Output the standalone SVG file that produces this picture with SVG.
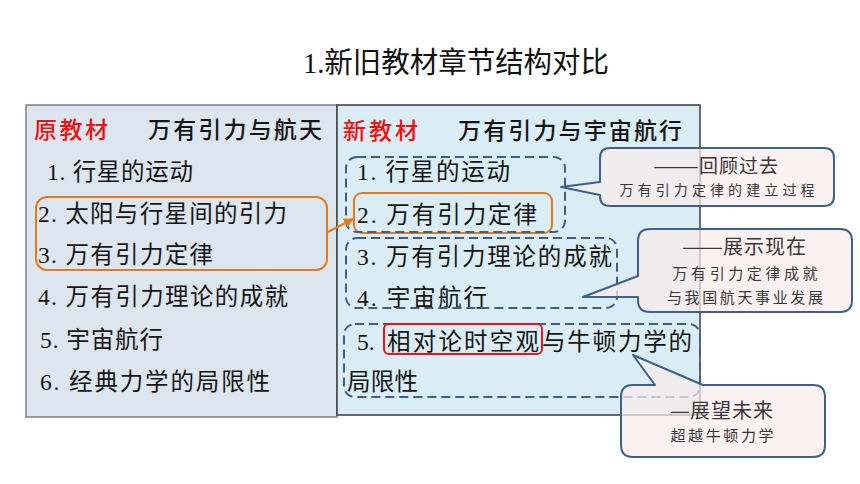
<svg xmlns="http://www.w3.org/2000/svg" width="860" height="484" viewBox="0 0 860 484">
<defs>
<style>
.t{font-family:"Liberation Serif","Noto Sans CJK SC",serif;font-size:23.5px;fill:#151515}
.h{font-family:"Noto Sans CJK SC",sans-serif;font-size:23px;fill:#151515;font-weight:500}
.r{fill:#ee1111}
.dash{fill:none;stroke:#3d5f86;stroke-width:2;stroke-dasharray:9 5}
.call{fill:#f9ecec;fill-opacity:0.72;stroke:#3d6189;stroke-width:2;stroke-linejoin:round}
.ct{font-family:"Noto Sans CJK SC",serif;fill:#383838;text-anchor:middle}
.cs{font-family:"Noto Sans CJK SC",serif;fill:#383838}
</style>
<marker id="arr" viewBox="0 0 10 10" refX="9" refY="5" markerWidth="5" markerHeight="5" orient="auto">
<path d="M0,0 L10,5 L0,10 z" fill="#e47a1e"/>
</marker>
</defs>
<rect width="860" height="484" fill="#ffffff"/>
<text x="303" y="73" textLength="306" lengthAdjust="spacingAndGlyphs" style="font-family:'Liberation Serif','Noto Sans CJK SC',serif;font-size:29px;fill:#111">1.新旧教材章节结构对比</text>

<g id="old-book">
<rect x="26" y="105" width="311" height="312" fill="#dde5ef" stroke="#7d7f82" stroke-width="1.5"/>
<text class="h r" x="34" y="138" textLength="74">原教材</text>
<text class="h" x="148" y="138" textLength="174">万有引力与航天</text>
<text class="t" x="47" y="180" textLength="146">1. 行星的运动</text>
<text class="t" x="38" y="222" textLength="249">2. 太阳与行星间的引力</text>
<text class="t" x="38" y="263" textLength="175">3. 万有引力定律</text>
<text class="t" x="38" y="305" textLength="250">4. 万有引力理论的成就</text>
<text class="t" x="40" y="348" textLength="123">5. 宇宙航行</text>
<text class="t" x="40" y="390" textLength="230">6.  经典力学的局限性</text>
</g>

<g id="new-book">
<rect x="337" y="105" width="363" height="310" fill="#daecf4" stroke="#3a3c40" stroke-width="1.5"/>
<text class="h r" x="343" y="139" textLength="75">新教材</text>
<text class="h" x="458" y="139" textLength="224">万有引力与宇宙航行</text>
<text class="t" x="357" y="180" textLength="153">1.  行星的运动</text>
<text class="t" x="357" y="223" textLength="180">2.  万有引力定律</text>
<text class="t" x="357" y="265" textLength="255">3.  万有引力理论的成就</text>
<text class="t" x="357" y="306" textLength="130">4.  宇宙航行</text>
<text class="t" x="357" y="350">5.</text>
<text class="t" x="387" y="350" textLength="152">相对论时空观</text>
<text class="t" x="542" y="350" textLength="150">与牛顿力学的</text>
<text class="t" x="347" y="390" textLength="71">局限性</text>
</g>

<g id="group-old-2-3">
<rect x="36" y="197" width="291" height="73" rx="11" fill="none" stroke="#e47a1e" stroke-width="2"/>
</g>
<g id="group-new-2">
<rect x="354" y="193" width="198" height="40" rx="8" fill="none" stroke="#e47a1e" stroke-width="2"/>
</g>
<g id="group-new-1-2">
<rect x="346" y="157" width="219" height="75" rx="11" class="dash"/>
</g>
<g id="group-new-3-4">
<rect x="346" y="238" width="271" height="70" rx="11" class="dash"/>
</g>
<g id="group-new-5">
<rect x="344" y="324" width="356" height="73" rx="11" class="dash"/>
</g>
<g id="highlight-relativity">
<rect x="384" y="324" width="158" height="30" rx="5" fill="none" stroke="#e8141c" stroke-width="2"/>
</g>

<g id="connectors">
<line x1="328" y1="232" x2="353" y2="219" stroke="#e47a1e" stroke-width="2" marker-end="url(#arr)"/>
</g>

<g id="callout-past">
<path class="call" d="M610,148 H824 Q834,148 834,158 V196 Q834,206 824,206 H610 Q600,206 600,196 V195 L561,187 L600,182 V158 Q600,148 610,148 Z"/>
<text class="cs" x="653" y="173" font-size="19"><tspan textLength="46" lengthAdjust="spacingAndGlyphs">——</tspan><tspan letter-spacing="1">回顾过去</tspan></text>
<text class="ct" x="717" y="195" font-size="14" textLength="195">万有引力定律的建立过程</text>
</g>

<g id="callout-present">
<path class="call" d="M650,229 H840 Q852,229 852,241 V300 Q852,312 840,312 H650 Q638,312 638,300 V297 L583,297 L638,276 V241 Q638,229 650,229 Z"/>
<text class="cs" x="682" y="254" font-size="20"><tspan textLength="41" lengthAdjust="spacingAndGlyphs">——</tspan><tspan letter-spacing="1">展示现在</tspan></text>
<text class="ct" x="745" y="279" font-size="15" textLength="145">万有引力定律成就</text>
<text class="ct" x="745" y="303" font-size="15" textLength="156">与我国航天事业发展</text>
</g>

<g id="callout-future">
<path class="call" d="M633,385 H655 L633,355 L703,385 H813 Q825,385 825,397 V445 Q825,457 813,457 H633 Q621,457 621,445 V397 Q621,385 633,385 Z"/>
<text class="cs" x="670" y="418" font-size="20"><tspan textLength="20" lengthAdjust="spacingAndGlyphs">—</tspan><tspan letter-spacing="1">展望未来</tspan></text>
<text class="ct" x="722" y="441" font-size="15" textLength="103">超越牛顿力学</text>
</g>
</svg>
